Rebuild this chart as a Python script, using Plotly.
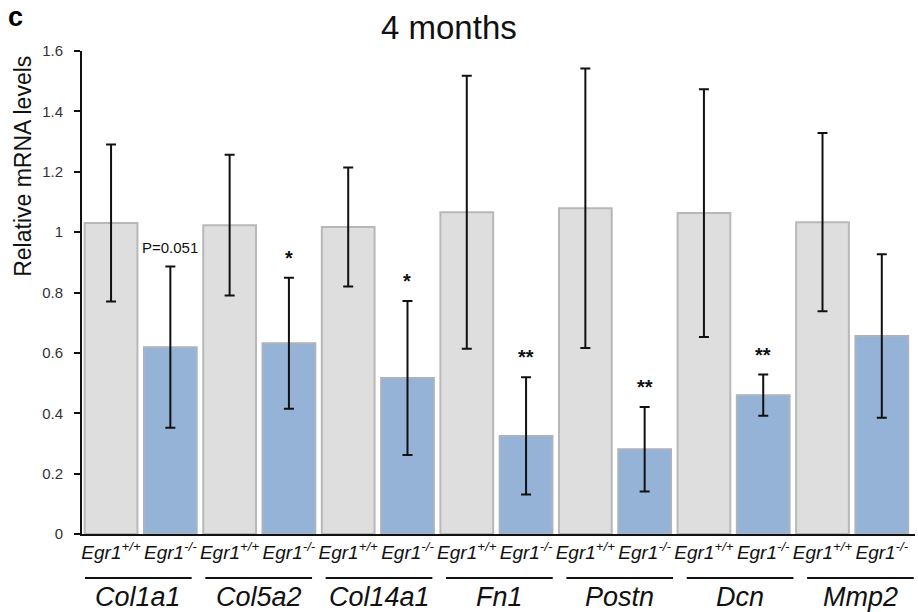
import plotly.graph_objects as go

genes = ["Col1a1", "Col5a2", "Col14a1", "Fn1", "Postn", "Dcn", "Mmp2"]
wt_mean = [1.03, 1.023, 1.017, 1.066, 1.079, 1.063, 1.033]
wt_err = [0.26, 0.233, 0.197, 0.452, 0.463, 0.41, 0.295]
ko_mean = [0.619, 0.632, 0.517, 0.325, 0.281, 0.46, 0.656]
ko_err = [0.267, 0.217, 0.255, 0.194, 0.14, 0.068, 0.271]
sig_labels = ["P=0.051", "*", "*", "**", "**", "**", ""]
y_ticks = [0, 0.2, 0.4, 0.6, 0.8, 1, 1.2, 1.4, 1.6]
y_tick_text = ["0", "0.2", "0.4", "0.6", "0.8", "1", "1.2", "1.4", "1.6"]
wt_label = "<i>Egr1<sup>+/+</sup></i>"
ko_label = "<i>Egr1<sup>-/-</sup></i>"
title_text = "4 months"
y_title = "Relative mRNA levels"
panel_label = "c"

FONT = "Liberation Sans, Arial"
n = len(genes)
wt_x = [2 * i for i in range(n)]
ko_x = [2 * i + 1 for i in range(n)]

fig = go.Figure()
err_style = dict(type="data", thickness=2, width=5, color="#111111")
fig.add_trace(go.Bar(
    x=wt_x, y=wt_mean, width=0.89,
    error_y=dict(array=wt_err, **err_style),
    marker=dict(color="#DEDEDE", line=dict(color="#B8B8B8", width=2)),
    showlegend=False,
))
fig.add_trace(go.Bar(
    x=ko_x, y=ko_mean, width=0.89,
    error_y=dict(array=ko_err, **err_style),
    marker=dict(color="#95B3D7", line=dict(color="#ABB3BD", width=2)),
    showlegend=False,
))

tickvals = []
ticktext = []
for i in range(n):
    tickvals += [wt_x[i], ko_x[i]]
    ticktext += [wt_label, ko_label]

annotations = []
shapes = []
for i, g in enumerate(genes):
    lab = sig_labels[i]
    if lab:
        is_star = lab.startswith("*")
        annotations.append(dict(
            x=ko_x[i], y=ko_mean[i] + ko_err[i], xref="x", yref="y",
            text=("<b>" + lab + "</b>") if is_star else lab,
            showarrow=False, yanchor="middle",
            yshift=20 if is_star else 19,
            font=dict(family=FONT, size=20 if is_star else 15, color="#111111"),
        ))
    x0 = 2 * i - 0.44 + 0.03 * i
    x1 = x0 + 1.8
    shapes.append(dict(type="line", xref="x", yref="paper", x0=x0, x1=x1,
                       y0=-0.091, y1=-0.091, line=dict(color="#111111", width=2)))
    annotations.append(dict(
        x=(x0 + x1) / 2, y=-0.131, xref="x", yref="paper", text="<i>" + g + "</i>",
        showarrow=False, yanchor="middle",
        font=dict(family=FONT, size=27, color="#111111"),
    ))

# title, panel letter, y-axis title (paper coords relative to plot area)
annotations.append(dict(
    x=0.44, y=1.0, xref="paper", yref="paper", text=title_text, showarrow=False,
    xanchor="center", yanchor="middle", yshift=24,
    font=dict(family=FONT, size=33, color="#111111"),
))
annotations.append(dict(
    x=-0.091, y=1.0, xref="paper", yref="paper", text="<b>" + panel_label + "</b>",
    showarrow=False, xanchor="left", yanchor="top", yshift=51,
    font=dict(family=FONT, size=27, color="#000000"),
))
annotations.append(dict(
    x=-0.071, y=0.762, xref="paper", yref="paper", text=y_title, showarrow=False,
    xanchor="center", yanchor="middle", textangle=-90,
    font=dict(family=FONT, size=23, color="#111111"),
))

fig.update_layout(
    width=918, height=612,
    margin=dict(l=82, r=3, t=51, b=78),
    plot_bgcolor="white", paper_bgcolor="white",
    bargap=0.1,
    annotations=annotations,
    shapes=shapes,
    font=dict(family=FONT, color="#111111"),
)
fig.update_xaxes(
    range=[-0.49, 13.56], tickvals=tickvals, ticktext=ticktext,
    showline=True, linecolor="#111111", linewidth=2, ticks="",
    tickfont=dict(family=FONT, size=19, color="#111111"),
    showgrid=False, zeroline=False, automargin=False,
)
fig.update_yaxes(
    range=[0, 1.6], tickvals=y_ticks, ticktext=y_tick_text,
    showline=True, linecolor="#111111", linewidth=2,
    ticks="outside", ticklen=6, tickwidth=2, tickcolor="#111111",
    ticklabelstandoff=8,
    tickfont=dict(family=FONT, size=15, color="#333333"),
    showgrid=False, zeroline=False, automargin=False,
)

# remove the default 8px page margin so the figure fills the 918x612 window
fig.write_html("out.html", config={"displayModeBar": False},
               post_script="document.body.style.margin='0';")
